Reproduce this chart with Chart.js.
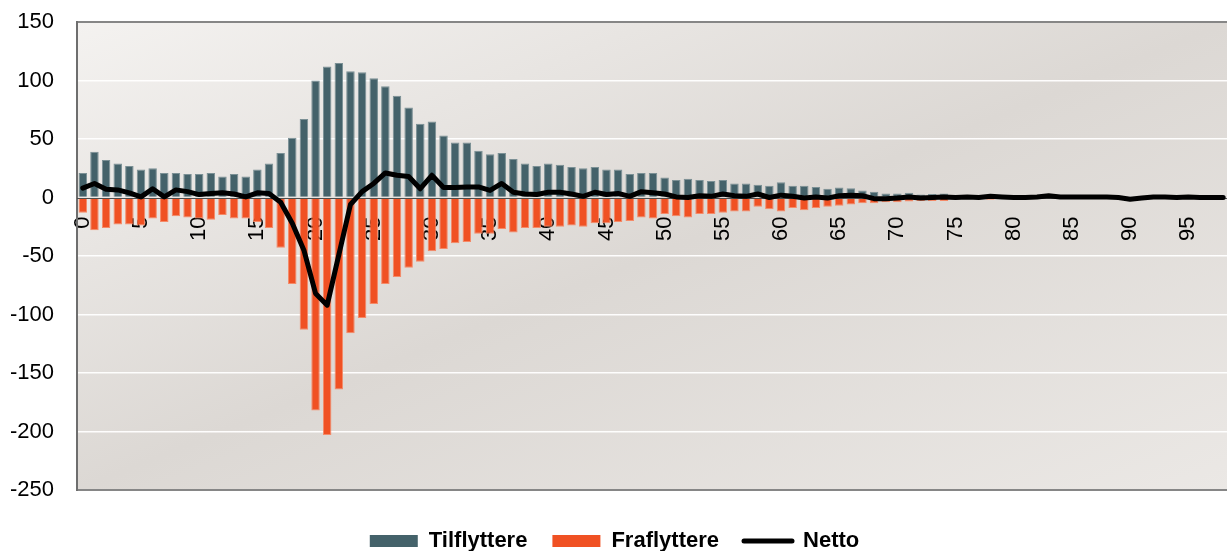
<!DOCTYPE html>
<html>
<head>
<meta charset="utf-8">
<script src="https://cdn.jsdelivr.net/npm/chart.js@4.4.1/dist/chart.umd.min.js"></script>
<style>
  html, body { margin: 0; padding: 0; background: #fff; overflow: hidden; }
  #wrap { width: 1227px; height: 551px; overflow: hidden; }
</style>
</head>
<body>
<div id="wrap"><canvas id="chart" width="1229" height="551"></canvas></div>
<script>
// ages 0..98
const ages = [
  0, 1, 2, 3, 4, 5, 6, 7, 8, 9, 10, 11, 12, 13, 14, 15, 16, 17, 18, 19,
  20, 21, 22, 23, 24, 25, 26, 27, 28, 29, 30, 31, 32, 33, 34, 35, 36, 37, 38, 39,
  40, 41, 42, 43, 44, 45, 46, 47, 48, 49, 50, 51, 52, 53, 54, 55, 56, 57, 58, 59,
  60, 61, 62, 63, 64, 65, 66, 67, 68, 69, 70, 71, 72, 73, 74, 75, 76, 77, 78, 79,
  80, 81, 82, 83, 84, 85, 86, 87, 88, 89, 90, 91, 92, 93, 94, 95, 96, 97, 98
];

const tilflyttere = [
  21, 39, 32, 29, 27, 24, 25, 21, 21, 20, 20, 21, 18, 20, 18, 24, 29, 38, 51, 67,
  100, 112, 115, 108, 107, 102, 95, 87, 77, 63, 65, 53, 47, 47, 40, 37, 38, 33, 29, 27,
  29, 28, 26, 25, 26, 24, 24, 20, 21, 21, 17, 15, 16, 15, 14, 15, 12, 12, 11, 10,
  13, 10, 10, 9, 7.5, 8.5, 8, 6, 5, 3.5, 3.5, 4, 2.5, 3, 3.5, 1.5, 1.5, 1, 1.5, 1,
  1, 1, 1, 2, 1, 1, 1, 0.5, 0.5, 0.5, 0.5, 0.5, 0.5, 0.5, 0, 0.5, 0, 0, 0
];

const fraflyttere = [
  -13, -28, -26, -23, -23, -24, -18, -21, -16, -17, -18, -19, -15, -18, -18, -21, -26, -43, -74, -113,
  -182, -203, -164, -116, -103, -91, -74, -68, -60, -55, -46, -44, -39, -38, -31, -31, -27, -30, -26, -26,
  -25, -25, -24, -25, -22, -22, -21, -20, -17, -18, -14, -16, -17, -14, -14, -13, -12, -12, -8, -10,
  -12, -9, -11, -9, -8, -7, -6, -5, -5, -4, -4, -3.5, -3, -3, -3, -1.5, -1, -1, -2, -1,
  -1, -1, -0.5, -0.5, -0.5, -0.5, -0.5, 0, 0, 0, -0.5, 0, 0, 0, 0, 0, 0, 0, 0
];

const netto = [
  8, 12, 7, 6.5, 4, 0.5, 7.5, 0.5, 6.5, 5, 2.5, 3.5, 4, 3, 0.5, 4, 3.5, -4, -22, -45,
  -82, -92, -49, -6, 5, 12, 21, 19, 18, 7.5, 19, 8.5, 8.5, 9, 9, 6, 12, 4.5, 3, 2.5,
  4.5, 4.5, 3, 1, 4.5, 2.5, 3.5, 1, 5, 4, 3, 0.5, 0, 1.5, 1, 3, 1.5, 1, 3, 0,
  2, 1, -0.5, 0.5, -0.5, 1.5, 2, 1.5, -1, -1, -0.5, 0.5, -0.5, 0, 0.5, 0, 0.5, 0, 1, 0.5,
  0, 0, 0.5, 1.5, 0.5, 0.5, 0.5, 0.5, 0.5, 0, -1.5, -0.5, 0.5, 0.5, 0, 0.5, 0, 0, 0
];

const yMin = -250;
const yMax = 150;
const yStep = 50;

const FONT = "'Liberation Sans', Arial, sans-serif";

// gradient fill behind the plot area
const plotBackground = {
  id: 'plotBackground',
  beforeDraw(chart) {
    const { ctx, chartArea: a } = chart;
    const w = a.right - a.left, h = a.bottom - a.top;
    const k = 2 * w * h / (w * w + h * h);
    const g = ctx.createLinearGradient(a.left, a.top, a.left + h * k, a.top + w * k);
    g.addColorStop(0, '#f4f2f0');
    g.addColorStop(0.5, '#dcd8d4');
    g.addColorStop(1, '#ebe8e5');
    ctx.save();
    ctx.fillStyle = g;
    ctx.fillRect(a.left, a.top, w, h);
    ctx.restore();
  }
};

// zero line over the bars, under the netto line
const zeroLine = {
  id: 'zeroLine',
  beforeDatasetDraw(chart, args) {
    if (args.index !== 2) return;
    const { ctx, chartArea: a } = chart;
    const y = Math.round(chart.scales.y.getPixelForValue(0)) + 0.5;
    ctx.save();
    ctx.strokeStyle = '#4d4d4d';
    ctx.lineWidth = 1;
    ctx.beginPath();
    ctx.moveTo(a.left, y);
    ctx.lineTo(a.right, y);
    ctx.stroke();
    ctx.restore();
  }
};

// push the legend a bit lower, like the original
const legendShift = {
  id: 'legendShift',
  afterLayout(chart) {
    chart.legend.top += 15;
    chart.legend.bottom += 15;
  }
};

new Chart(document.getElementById('chart'), {
  type: 'bar',
  data: {
    labels: ages,
    datasets: [
      {
        label: 'Tilflyttere',
        data: tilflyttere,
        backgroundColor: '#44626a',
        borderColor: '#7b9095',
        borderWidth: 1,
        barPercentage: 0.73,
        categoryPercentage: 1,
        grouped: false,
        order: 2
      },
      {
        label: 'Fraflyttere',
        data: fraflyttere,
        backgroundColor: '#f05123',
        borderColor: '#f58a68',
        borderWidth: 1,
        barPercentage: 0.73,
        categoryPercentage: 1,
        grouped: false,
        order: 2
      },
      {
        type: 'line',
        label: 'Netto',
        data: netto,
        borderColor: '#000',
        backgroundColor: '#000',
        borderWidth: 5,
        borderJoinStyle: 'round',
        borderCapStyle: 'round',
        pointRadius: 0,
        tension: 0,
        order: 1
      }
    ]
  },
  options: {
    responsive: false,
    animation: false,
    devicePixelRatio: 1,
    events: [],
    layout: { padding: { top: 22, left: 0, right: 0, bottom: 4 } },
    scales: {
      x: {
        position: { y: 0 },
        z: 1,
        offset: true,
        grid: { display: false, drawTicks: false },
        border: { display: false },
        ticks: {
          autoSkip: false,
          minRotation: 90,
          maxRotation: 90,
          padding: 19,
          color: '#000',
          font: { family: FONT, size: 22 },
          callback: (v, i) => (i % 5 === 0 ? String(ages[i]) : '')
        },
        afterFit: (scale) => {
          scale.paddingLeft = 0;
          scale.paddingRight = 0;
          scale.paddingTop = 0;
          scale.paddingBottom = 0;
        }
      },
      y: {
        min: yMin,
        max: yMax,
        ticks: {
          stepSize: yStep,
          padding: 23,
          color: '#000',
          font: { family: FONT, size: 22 }
        },
        grid: {
          drawTicks: false,
          color: (c) => {
            const v = c.tick.value;
            if (v === 0) return 'rgba(0,0,0,0)';
            if (v === yMin || v === yMax) return '#868686';
            return 'rgba(255,255,255,0.95)';
          },
          lineWidth: (c) => {
            const v = c.tick.value;
            return (v === yMin || v === yMax) ? 2 : 1.5;
          }
        },
        border: { display: true, color: '#6e6e6e', width: 2 },
        afterFit: (scale) => {
          scale.width = 77;
          scale.paddingTop = 0;
          scale.paddingBottom = 0;
        }
      }
    },
    plugins: {
      tooltip: { enabled: false },
      legend: {
        position: 'bottom',
        labels: {
          usePointStyle: true,
          pointStyleWidth: 48,
          boxWidth: 48,
          boxHeight: 12,
          padding: 25,
          color: '#000',
          font: { family: FONT, size: 22, weight: 'bold' },
          sort: (a, b) => a.datasetIndex - b.datasetIndex,
          generateLabels: (chart) => {
            const items = Chart.defaults.plugins.legend.labels.generateLabels(chart);
            items.forEach((it) => {
              if (it.datasetIndex === 2) {
                it.pointStyle = 'line';
                it.strokeStyle = '#000';
                it.lineWidth = 5;
                it.lineCap = 'round';
              } else {
                it.pointStyle = 'rect';
                it.lineWidth = 0;
              }
            });
            return items;
          }
        }
      }
    }
  },
  plugins: [plotBackground, zeroLine, legendShift]
});
</script>
</body>
</html>
